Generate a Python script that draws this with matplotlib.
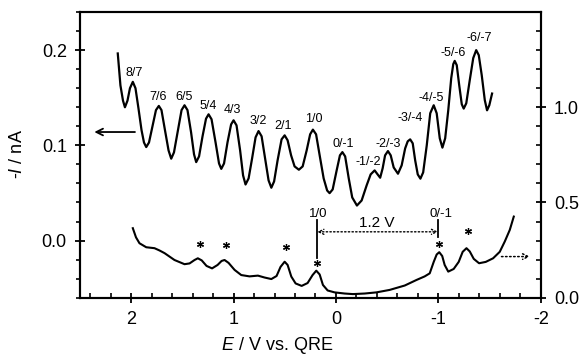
import numpy as np
import matplotlib
matplotlib.use('Agg')
import matplotlib.pyplot as plt
from matplotlib.ticker import MultipleLocator

plt.rcParams['font.family'] = ['Liberation Sans', 'DejaVu Sans']
plt.rcParams['mathtext.fontset'] = 'custom'
plt.rcParams['mathtext.it'] = 'Liberation Sans:italic'
plt.rcParams['mathtext.rm'] = 'Liberation Sans'
plt.rcParams['axes.unicode_minus'] = False

# upper trace (DPV, left axis), E in V, -I in nA
top_E = [2.131, 2.105, 2.080, 2.061, 2.036, 2.012, 1.984, 1.958, 1.929, 1.899,
         1.875, 1.853, 1.826, 1.792, 1.758, 1.730, 1.704, 1.670, 1.635, 1.609,
         1.582, 1.543, 1.508, 1.479, 1.450, 1.415, 1.386, 1.365, 1.337, 1.303,
         1.269, 1.244, 1.215, 1.176, 1.142, 1.120, 1.093, 1.059, 1.024, 1.000,
         0.971, 0.936, 0.907, 0.883, 0.853, 0.819, 0.785, 0.756, 0.726, 0.692,
         0.658, 0.631, 0.604, 0.570, 0.531, 0.501, 0.472, 0.438, 0.404, 0.362,
         0.325, 0.286, 0.252, 0.225, 0.194, 0.159, 0.120, 0.086, 0.062, 0.032,
         -0.007, -0.039, -0.063, -0.090, -0.125, -0.159, -0.205, -0.251, -0.300, -0.339,
         -0.378, -0.407, -0.432, -0.456, -0.480, -0.508, -0.535, -0.564, -0.606, -0.642,
         -0.676, -0.701, -0.725, -0.750, -0.774, -0.799, -0.825, -0.852, -0.887, -0.921,
         -0.955, -0.984, -1.014, -1.040, -1.067, -1.097, -1.126, -1.146, -1.160, -1.180,
         -1.204, -1.229, -1.248, -1.273, -1.307, -1.341, -1.370, -1.395, -1.424, -1.454,
         -1.476, -1.498, -1.525]
top_I = [0.1965, 0.163, 0.147, 0.140, 0.147, 0.160, 0.1667, 0.160, 0.139, 0.116,
         0.103, 0.0982, 0.103, 0.120, 0.137, 0.1414, 0.137, 0.116, 0.0947, 0.086,
         0.0926, 0.116, 0.137, 0.1421, 0.137, 0.1137, 0.0905, 0.0824, 0.0884, 0.1095,
         0.128, 0.1326, 0.1274, 0.1032, 0.081, 0.0753, 0.081, 0.1032, 0.122, 0.1263,
         0.121, 0.0947, 0.0684, 0.0589, 0.0653, 0.0863, 0.1084, 0.115, 0.1095, 0.0863,
         0.0632, 0.0555, 0.0621, 0.0842, 0.1063, 0.1105, 0.1053, 0.0895, 0.0779, 0.0744,
         0.0779, 0.0947, 0.1116, 0.1165, 0.1116, 0.0895, 0.0653, 0.0526, 0.0498, 0.0537,
         0.0737, 0.0895, 0.0929, 0.0884, 0.0653, 0.0453, 0.0368, 0.0421, 0.058, 0.0695,
         0.0737, 0.0695, 0.066, 0.0758, 0.0895, 0.094, 0.0895, 0.0768, 0.0702, 0.079,
         0.0968, 0.1042, 0.1063, 0.1021, 0.0842, 0.0695, 0.065, 0.0716, 0.100, 0.1337,
         0.1421, 0.1337, 0.1074, 0.0976, 0.1074, 0.1368, 0.1705, 0.1853, 0.1887, 0.1842,
         0.1632, 0.1432, 0.1386, 0.1442, 0.1684, 0.1916, 0.200, 0.1947, 0.1737, 0.1474,
         0.1368, 0.1421, 0.1544]

# lower trace (right axis, a.u.)
bot_E = [1.984, 1.953, 1.919, 1.853, 1.772, 1.723, 1.674, 1.577, 1.479, 1.430,
         1.381, 1.349, 1.311, 1.264, 1.210, 1.156, 1.117, 1.088, 1.049, 0.990,
         0.925, 0.844, 0.762, 0.697, 0.631, 0.580, 0.541, 0.501, 0.472, 0.436,
         0.394, 0.335, 0.277, 0.228, 0.192, 0.159, 0.127, 0.081, 0.013, -0.085,
         -0.166, -0.281, -0.395, -0.525, -0.672, -0.786, -0.867, -0.916, -0.955, -0.984,
         -1.009, -1.038, -1.062, -1.097, -1.150, -1.199, -1.238, -1.275, -1.307, -1.346,
         -1.398, -1.463, -1.535, -1.600, -1.649, -1.698, -1.737]
bot_R = [0.365, 0.317, 0.286, 0.265, 0.260, 0.248, 0.234, 0.198, 0.176, 0.180,
         0.198, 0.207, 0.196, 0.167, 0.154, 0.172, 0.193, 0.198, 0.183, 0.146,
         0.119, 0.112, 0.116, 0.106, 0.098, 0.114, 0.162, 0.189, 0.172, 0.111,
         0.075, 0.062, 0.077, 0.119, 0.142, 0.122, 0.067, 0.038, 0.028, 0.022,
         0.019, 0.022, 0.028, 0.041, 0.064, 0.093, 0.112, 0.128, 0.188, 0.227,
         0.239, 0.219, 0.172, 0.137, 0.151, 0.188, 0.241, 0.260, 0.243, 0.204,
         0.181, 0.188, 0.207, 0.241, 0.295, 0.356, 0.426]

# peak labels on the upper trace
peak_labels = ['8/7', '7/6', '6/5', '5/4', '4/3', '3/2', '2/1', '1/0', '0/-1',
               '-1/-2', '-2/-3', '-3/-4', '-4/-5', '-5/-6', '-6/-7']
peak_E = [1.968, 1.733, 1.486, 1.244, 1.013, 0.756, 0.518, 0.215, -0.068,
          -0.313, -0.508, -0.727, -0.933, -1.144, -1.398]
peak_I = [0.1761, 0.1509, 0.1509, 0.1418, 0.1368, 0.1256, 0.120, 0.1281, 0.1011,
          0.0828, 0.1018, 0.1292, 0.1502, 0.1965, 0.2129]

# asterisks on the lower trace
star_E = [1.332, 1.071, 0.485, 0.186, -1.009, -1.290]
star_R = [0.281, 0.276, 0.268, 0.181, 0.281, 0.351]

E_10 = 0.182
E_0m1 = -0.997

fig = plt.figure(figsize=(5.86, 3.54), dpi=100)
ax = fig.add_axes([0.1365, 0.159, 0.7862, 0.807])
ax2 = ax.twinx()

ax.plot(top_E, top_I, color='black', lw=1.6)
ax2.plot(bot_E, bot_R, color='black', lw=1.5)

ax.set_xlim(2.5, -2)
ax.set_ylim(-0.06, 0.24)
ax2.set_ylim(0, 1.5)

for lab, e, i in zip(peak_labels, peak_E, peak_I):
    ax.text(e, i, lab, ha='center', va='center', fontsize=9)

ax2.plot(star_E, star_R, ls='none', marker=(6, 2, 0), ms=5, mew=0.9, color='black')

# 1/0 and 0/-1 markers with 1.2 V spacing
ax2.plot([E_10, E_10], [0.409, 0.209], color='black', lw=1.3)
ax2.plot([E_0m1, E_0m1], [0.409, 0.321], color='black', lw=1.3)
ax2.text(E_10 - 0.005, 0.437, '1/0', ha='center', va='center', fontsize=9.5)
ax2.text(E_0m1 - 0.025, 0.437, '0/-1', ha='center', va='center', fontsize=9.5)
ax2.annotate('', xy=(E_0m1, 0.346), xytext=(E_10, 0.346),
             arrowprops=dict(arrowstyle='<->', ls=':', lw=1.0, color='black',
                             shrinkA=0, shrinkB=0, mutation_scale=9))
ax2.text(-0.398, 0.392, '1.2 V', ha='center', va='center', fontsize=11)

# axis arrows
ax.annotate('', xy=(2.36, 0.114), xytext=(1.963, 0.114),
            arrowprops=dict(arrowstyle='->', lw=1.3, color='black',
                            shrinkA=0, shrinkB=0, mutation_scale=12))
ax2.annotate('', xy=(-1.894, 0.216), xytext=(-1.617, 0.216),
             arrowprops=dict(arrowstyle='->', lw=1.1, ls=':', color='black',
                             shrinkA=0, shrinkB=0, mutation_scale=10))

ax.set_xticks([2, 1, 0, -1, -2])
ax.set_xticklabels(['2', '1', '0', '-1', '-2'])
ax.xaxis.set_minor_locator(MultipleLocator(0.2))
ax.set_yticks([0.0, 0.1, 0.2])
ax.set_yticklabels(['0.0', '0.1', '0.2'])
ax.yaxis.set_minor_locator(MultipleLocator(0.02))
ax2.set_yticks([0.0, 0.5, 1.0])
ax2.set_yticklabels(['0.0', '0.5', '1.0'])
ax2.yaxis.set_minor_locator(MultipleLocator(0.1))

ax.tick_params(axis='x', which='major', direction='inout', length=7, width=1.3,
               labelsize=13, pad=6)
ax.tick_params(axis='x', which='minor', direction='in', length=3.5, width=1.2)
ax.tick_params(axis='y', which='major', direction='inout', length=7, width=1.3,
               labelsize=13, pad=6)
ax.tick_params(axis='y', which='minor', direction='out', length=3, width=1.2)
ax2.tick_params(axis='y', which='major', direction='inout', length=7, width=1.3,
                labelsize=13, pad=6)
ax2.tick_params(axis='y', which='minor', direction='in', length=3.5, width=1.2)

for a in (ax, ax2):
    for s in a.spines.values():
        s.set_linewidth(1.5)

fig.text(277.5 / 586, 1 - 345 / 354, '$E$ / V vs. QRE', ha='center', va='center',
         fontsize=13)
fig.text(18 / 586, 1 - 154 / 354, '-$I$ / nA', ha='center', va='center',
         rotation=90, fontsize=13)

fig.savefig('out.png', dpi=100)
